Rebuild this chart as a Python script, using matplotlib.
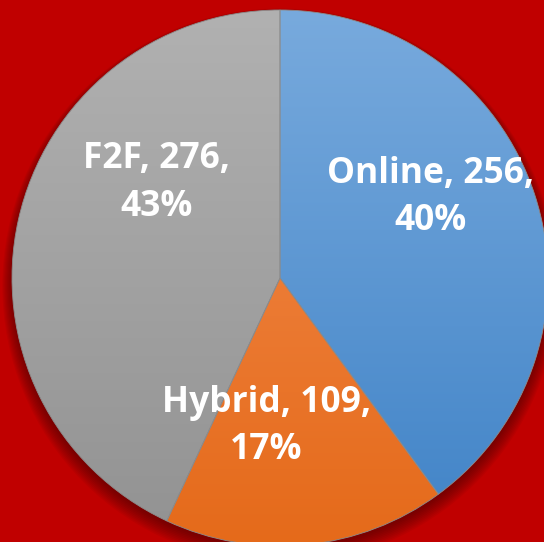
import matplotlib.pyplot as plt
import numpy as np
from matplotlib.colors import LinearSegmentedColormap
from matplotlib.patches import Circle

categories = ["Online", "Hybrid", "F2F"]
counts = [256, 109, 276]

# top / bottom colours of each slice's vertical gradient
grad_top = ["#78aadd", "#f38d50", "#b1b1b1"]
grad_bottom = ["#4083c7", "#e56a1a", "#929292"]

# label centres in units of the radius (Excel places them by hand)
label_pos = [(0.56, 0.30), (-0.05, -0.555), (-0.46, 0.355)]

BG = "#c00000"
W, H = 544, 542
CX, CY, R = 280, 278, 268

fig = plt.figure(figsize=(W / 100, H / 100), dpi=100, facecolor=BG)
ax = fig.add_axes([0, 0, 1, 1])
ax.set_facecolor(BG)

# soft shadow under the pie
for i in range(10):
    ax.add_patch(Circle((0.0, -0.012 - i * 0.002), 1.0 + i * 0.004,
                        color="#300000", alpha=0.06, lw=0, zorder=0))

wedges, _ = ax.pie(counts, startangle=90, counterclock=False, radius=1.0,
                   wedgeprops=dict(edgecolor="#8c8c8c", linewidth=0.6))

for w, top, bottom in zip(wedges, grad_top, grad_bottom):
    w.set_facecolor("none")
    cmap = LinearSegmentedColormap.from_list("g", [bottom, top])
    grad = np.linspace(0, 1, 256).reshape(-1, 1)
    im = ax.imshow(grad, cmap=cmap, origin="lower", extent=(-1, 1, -1, 1),
                   aspect="auto", zorder=1, interpolation="bilinear")
    im.set_clip_path(w)
    w.set_zorder(2)

total = sum(counts)
for name, n, (x, y) in zip(categories, counts, label_pos):
    pct = round(100 * n / total)
    ax.text(x, y, f"{name}, {n},\n{pct}%", ha="center", va="center",
            color="white", fontsize=25.5, fontweight="bold", family="Open Sans",
            linespacing=1.42, zorder=5)

# pie() resets the limits, so place the pie in pixel terms afterwards
ax.set_xlim(-CX / R, (W - CX) / R)
ax.set_ylim(-(H - CY) / R, CY / R)
ax.set_aspect("equal")
ax.axis("off")

fig.savefig("out.png", dpi=100, facecolor=BG)
